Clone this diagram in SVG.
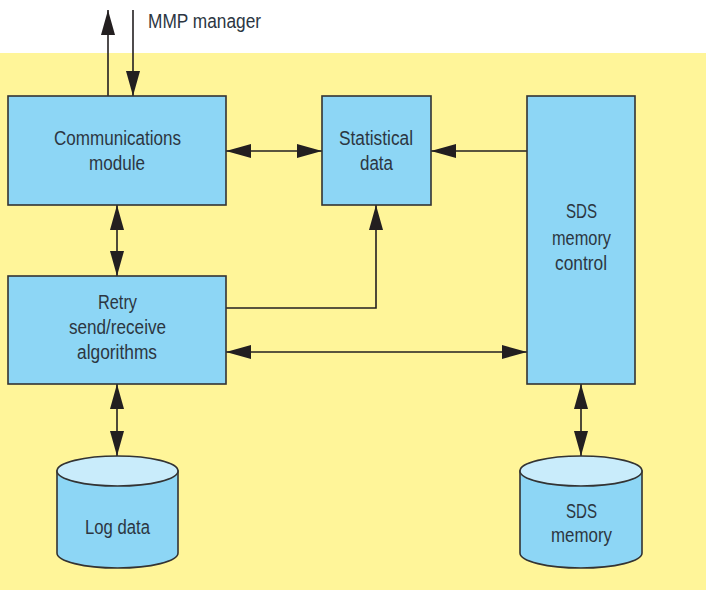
<svg xmlns="http://www.w3.org/2000/svg" width="706" height="590" viewBox="0 0 706 590">
<style>
.box{fill:#8dd6f5;stroke:#333;stroke-width:1.6}
.top{fill:#c9ecfb;stroke:#333;stroke-width:1.6}
.t{font-family:"Liberation Sans",Arial,sans-serif;font-size:20px;fill:#2c3642}
.c{fill:none;stroke:#231f20;stroke-width:1.6}
</style>
<defs>
<marker id="ah" markerUnits="userSpaceOnUse" markerWidth="26" markerHeight="14" refX="25" refY="7" orient="auto-start-reverse" viewBox="0 0 26 14">
<path d="M0,0 L25,7 L0,14 Z" fill="#231f20"/>
</marker>
</defs>
<rect x="0" y="0" width="706" height="590" fill="#ffffff"/>
<rect x="0" y="53" width="706" height="537" fill="#fff599"/>
<g id="connectors">
<line class="c" x1="108" y1="96" x2="108" y2="10" marker-end="url(#ah)"/>
<line class="c" x1="133" y1="10" x2="133" y2="96" marker-end="url(#ah)"/>
<line class="c" x1="226" y1="151" x2="322" y2="151" marker-start="url(#ah)" marker-end="url(#ah)"/>
<line class="c" x1="527" y1="151" x2="431" y2="151" marker-end="url(#ah)"/>
<line class="c" x1="117" y1="205" x2="117" y2="276" marker-start="url(#ah)" marker-end="url(#ah)"/>
<polyline class="c" points="226,308 376,308 376,205" marker-end="url(#ah)"/>
<line class="c" x1="226" y1="352" x2="527" y2="352" marker-start="url(#ah)" marker-end="url(#ah)"/>
<line class="c" x1="117" y1="384" x2="117" y2="456" marker-start="url(#ah)" marker-end="url(#ah)"/>
<line class="c" x1="581" y1="384" x2="581" y2="456" marker-start="url(#ah)" marker-end="url(#ah)"/>
</g>
<g id="mmp">
<text class="t" x="148" y="28" textLength="113" lengthAdjust="spacingAndGlyphs">MMP manager</text>
</g>
<g id="comm">
<rect class="box" x="8" y="96" width="218" height="109"/>
<text class="t" x="54" y="145" textLength="127" lengthAdjust="spacingAndGlyphs">Communications</text>
<text class="t" x="89" y="170" textLength="56" lengthAdjust="spacingAndGlyphs">module</text>
</g>
<g id="stat">
<rect class="box" x="322" y="96" width="109" height="109"/>
<text class="t" x="339" y="145" textLength="74" lengthAdjust="spacingAndGlyphs">Statistical</text>
<text class="t" x="360" y="170" textLength="33" lengthAdjust="spacingAndGlyphs">data</text>
</g>
<g id="sdsctl">
<rect class="box" x="527" y="96" width="108" height="288"/>
<text class="t" x="566" y="218" textLength="31" lengthAdjust="spacingAndGlyphs">SDS</text>
<text class="t" x="552" y="245" textLength="59" lengthAdjust="spacingAndGlyphs">memory</text>
<text class="t" x="555" y="270" textLength="52" lengthAdjust="spacingAndGlyphs">control</text>
</g>
<g id="retry">
<rect class="box" x="8" y="276" width="218" height="108"/>
<text class="t" x="98" y="309" textLength="39" lengthAdjust="spacingAndGlyphs">Retry</text>
<text class="t" x="69" y="334" textLength="97" lengthAdjust="spacingAndGlyphs">send/receive</text>
<text class="t" x="77" y="359" textLength="80" lengthAdjust="spacingAndGlyphs">algorithms</text>
</g>
<g id="log">
<path class="box" d="M57,471 L57,553 A60.5,15 0 0 0 178,553 L178,471 Z"/>
<ellipse class="top" cx="117.5" cy="471" rx="60.5" ry="15"/>
<text class="t" x="85" y="534" textLength="65" lengthAdjust="spacingAndGlyphs">Log data</text>
</g>
<g id="sdsmem">
<path class="box" d="M520,471 L520,553 A61,15 0 0 0 642,553 L642,471 Z"/>
<ellipse class="top" cx="581" cy="471" rx="61" ry="15"/>
<text class="t" x="566" y="518" textLength="31" lengthAdjust="spacingAndGlyphs">SDS</text>
<text class="t" x="551" y="542" textLength="61" lengthAdjust="spacingAndGlyphs">memory</text>
</g>
</svg>
